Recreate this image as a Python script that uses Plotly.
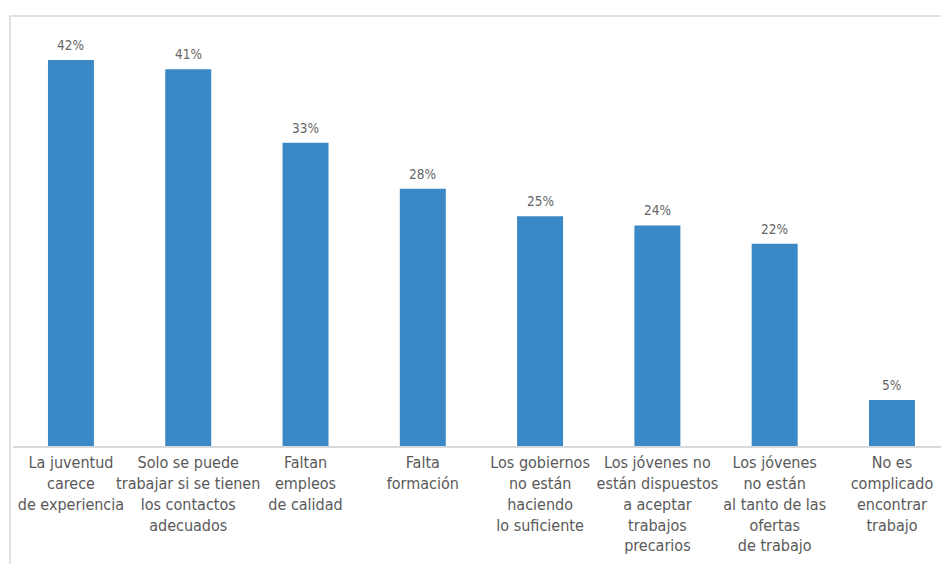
import plotly.graph_objects as go

categories = [
    "La juventud<br>carece<br>de experiencia",
    "Solo se puede<br>trabajar si se tienen<br>los contactos<br>adecuados",
    "Faltan<br>empleos<br>de calidad",
    "Falta<br>formación",
    "Los gobiernos<br>no están<br>haciendo<br>lo suficiente",
    "Los jóvenes no<br>están dispuestos<br>a aceptar<br>trabajos<br>precarios",
    "Los jóvenes<br>no están<br>al tanto de las<br>ofertas<br>de trabajo",
    "No es<br>complicado<br>encontrar<br>trabajo",
]
values = [42, 41, 33, 28, 25, 24, 22, 5]
value_labels = ["42%", "41%", "33%", "28%", "25%", "24%", "22%", "5%"]

FONT = "DejaVu Sans Condensed, Liberation Sans, sans-serif"
GRAY = "#595959"

xs = list(range(len(categories)))

fig = go.Figure(go.Bar(
    x=xs,
    y=values,
    marker=dict(color="#3A88C5", line=dict(width=0)),
    width=0.392,
    hoverinfo="skip",
))

annotations = [
    dict(x=x, y=v, text=t, xref="x", yref="y", showarrow=False,
         yanchor="bottom", yshift=5,
         font=dict(family=FONT, size=13.5, color="#666666"))
    for x, v, t in zip(xs, values, value_labels)
]

fig.update_layout(
    width=941, height=564,
    margin=dict(l=13, r=0, t=20, b=118, autoexpand=False),
    paper_bgcolor="white", plot_bgcolor="white",
    showlegend=False,
    annotations=annotations,
    xaxis=dict(
        range=[-0.494, 7.418],
        tickmode="array",
        tickvals=xs,
        ticktext=categories,
        tickangle=0,
        automargin=False,
        ticklabelstandoff=1,
        tickfont=dict(family=FONT, size=16, color=GRAY),
        showgrid=False, zeroline=False,
        showline=True, linecolor="#D9D9D9", linewidth=2,
        ticks="", fixedrange=True,
    ),
    yaxis=dict(
        range=[0, 46.36], automargin=False,
        visible=False, showgrid=False, zeroline=False, fixedrange=True,
    ),
    shapes=[dict(
        type="rect", xref="paper", yref="paper",
        x0=-3 / 928, x1=2, y0=-2, y1=(445 - 15) / 426,
        line=dict(color="#D9D9D9", width=1.5),
        fillcolor="rgba(0,0,0,0)", layer="below",
    )],
)

fig.write_html(
    "out.html",
    config={"displayModeBar": False, "staticPlot": True},
    post_script="document.body.style.margin='0';document.body.style.overflow='hidden';"
                "document.documentElement.style.overflow='hidden';",
)
